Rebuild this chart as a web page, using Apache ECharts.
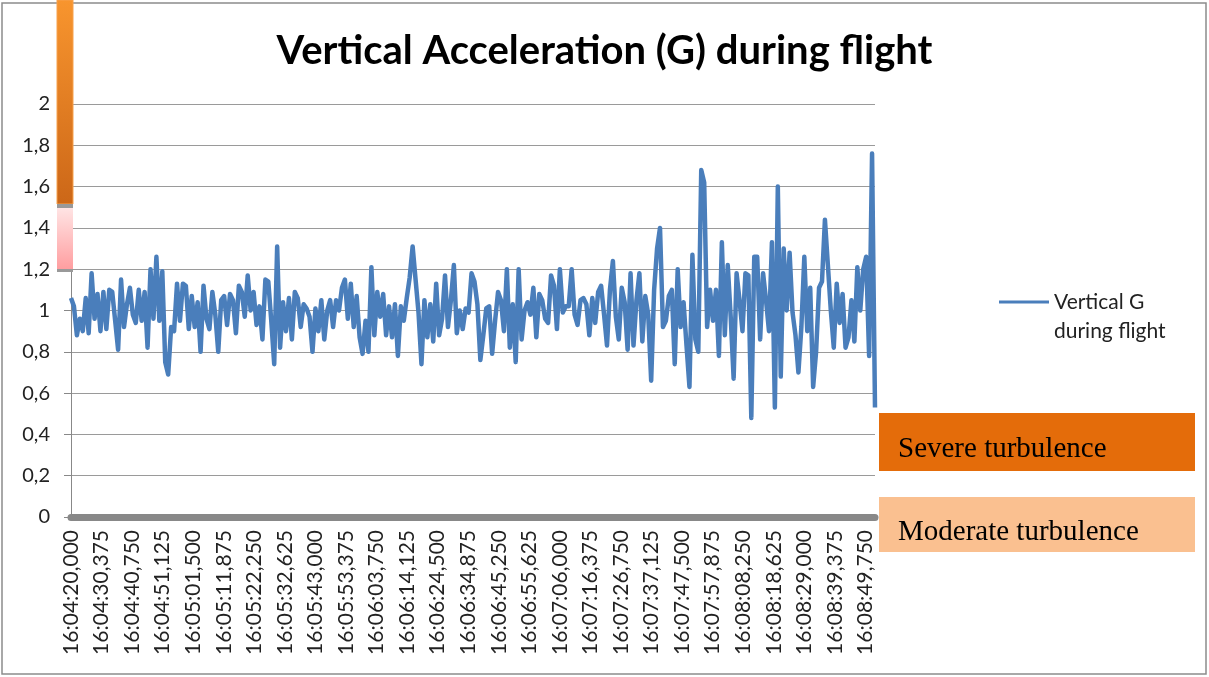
<!DOCTYPE html>
<html>
<head>
<meta charset="utf-8">
<script src="https://cdn.jsdelivr.net/npm/echarts@6/dist/echarts.min.js"></script>
<style>
  html, body { margin: 0; padding: 0; background: #fff; }
  #chart { width: 1209px; height: 677px; }
</style>
</head>
<body>
<div id="chart"></div>
<script>
// time axis labels, one every 10,375 s from 16:04:20,000
const tickLabels = [
  '16:04:20,000', '16:04:30,375', '16:04:40,750', '16:04:51,125', '16:05:01,500',
  '16:05:11,875', '16:05:22,250', '16:05:32,625', '16:05:43,000', '16:05:53,375',
  '16:06:03,750', '16:06:14,125', '16:06:24,500', '16:06:34,875', '16:06:45,250',
  '16:06:55,625', '16:07:06,000', '16:07:16,375', '16:07:26,750', '16:07:37,125',
  '16:07:47,500', '16:07:57,875', '16:08:08,250', '16:08:18,625', '16:08:29,000',
  '16:08:39,375', '16:08:49,750'
]
const tickStep = 10.375 // seconds between labels

// vertical G, one reading per second
const verticalG = [
  1.06, 1.02, 0.88, 0.96, 0.90, 1.06, 0.89, 1.18, 0.96, 1.08,
  0.90, 1.09, 0.91, 1.10, 1.09, 0.95, 0.81, 1.15, 0.92, 1.03,
  1.11, 0.98, 0.94, 1.10, 0.95, 1.09, 0.82, 1.20, 0.96, 1.26,
  0.95, 1.19, 0.75, 0.69, 0.92, 0.90, 1.13, 0.95, 1.13, 1.12,
  0.91, 1.07, 0.92, 1.04, 0.80, 1.12, 0.96, 0.91, 1.09, 0.98,
  0.80, 1.05, 1.07, 0.93, 1.08, 1.05, 0.89, 1.12, 1.09, 0.97,
  1.17, 1.00, 1.09, 0.93, 1.02, 0.86, 1.15, 1.14, 0.95, 0.74,
  1.31, 0.82, 1.04, 0.90, 1.06, 0.86, 1.09, 1.06, 0.92, 1.03,
  1.01, 0.97, 0.80, 1.01, 0.90, 1.05, 0.86, 1.00, 1.05, 0.92,
  1.05, 1.00, 1.11, 1.15, 0.96, 1.13, 0.92, 1.07, 0.87, 0.79,
  0.95, 0.80, 1.21, 0.88, 1.09, 0.97, 1.08, 0.88, 1.02, 0.87,
  1.03, 0.78, 1.02, 0.95, 1.06, 1.16, 1.31, 1.15, 0.99, 0.74,
  1.05, 0.87, 1.03, 0.85, 1.13, 0.88, 0.96, 1.17, 0.92, 1.05,
  1.22, 0.89, 1.00, 0.91, 1.01, 0.99, 1.18, 1.14, 1.03, 0.76,
  0.88, 1.01, 1.02, 0.79, 0.95, 1.09, 1.05, 0.90, 1.20, 0.82,
  1.03, 0.75, 1.20, 0.86, 1.00, 1.04, 0.98, 1.11, 0.87, 1.08,
  1.05, 0.96, 0.94, 1.17, 1.12, 0.91, 1.20, 0.99, 1.02, 1.02,
  1.20, 0.98, 0.93, 1.05, 1.06, 1.03, 0.88, 1.06, 0.94, 1.09,
  1.12, 0.98, 0.83, 1.10, 1.24, 0.97, 0.86, 1.11, 1.04, 0.81,
  1.18, 0.83, 1.05, 1.18, 0.85, 1.07, 0.98, 0.66, 1.10, 1.30,
  1.40, 0.92, 0.95, 1.07, 1.10, 0.74, 1.20, 0.92, 1.04, 0.83,
  0.63, 1.27, 0.86, 0.80, 1.68, 1.62, 0.92, 1.10, 0.95, 1.10,
  0.78, 1.33, 0.88, 1.22, 0.97, 0.67, 1.18, 1.05, 0.90, 1.18,
  1.17, 0.48, 1.26, 1.26, 0.86, 1.18, 1.05, 0.90, 1.33, 0.53,
  1.60, 0.68, 1.30, 1.00, 1.28, 0.99, 0.88, 0.70, 0.92, 1.26,
  0.90, 1.11, 0.63, 0.80, 1.11, 1.14, 1.44, 1.22, 1.00, 0.82,
  1.13, 0.94, 1.08, 0.82, 0.87, 1.05, 0.85, 1.21, 1.00, 1.20,
  1.26, 0.78, 1.76, 0.53
]

const seriesName = 'Vertical G\nduring flight'
const bandLabels = ['Severe turbulence', 'Moderate turbulence']
const bandColors = ['#E46C0A', '#FAC090']

const chart = echarts.init(document.getElementById('chart'))

const tickLabelAt = v => {
  const k = v / tickStep
  const r = Math.round(k)
  return Math.abs(k - r) < 1e-6 && tickLabels[r] ? tickLabels[r] : ''
}

const option = {
  animation: false,
  backgroundColor: '#fff',
  title: {
    text: 'Vertical Acceleration (G) during flight',
    left: 'center',
    top: 26,
    textStyle: { fontFamily: 'Lato', fontWeight: 'bold', fontSize: 40, color: '#000' }
  },
  grid: { left: 71, right: 334, top: 104, bottom: 160 },
  legend: {
    left: 999,
    top: 268,
    padding: 0,
    icon: 'rect',
    itemWidth: 50,
    itemHeight: 3,
    data: [seriesName],
    formatter: () => '{s| }\n{t|Vertical G}\n{t|during flight}',
    textStyle: {
      color: '#222',
      rich: {
        s: { fontSize: 10, lineHeight: 29 },
        t: { fontFamily: 'Lato', fontSize: 21, lineHeight: 29, color: '#222' }
      }
    }
  },
  xAxis: {
    type: 'value',
    min: 0,
    max: verticalG.length - 1,
    interval: tickStep,
    offset: 3,
    axisLine: { show: true, lineStyle: { color: '#888', width: 7 } },
    axisTick: { show: false },
    splitLine: { show: false },
    axisLabel: {
      rotate: 90,
      margin: 10,
      fontFamily: 'Lato',
      fontSize: 21,
      color: '#222',
      showMaxLabel: false,
      formatter: tickLabelAt
    }
  },
  yAxis: {
    type: 'value',
    min: 0,
    max: 2,
    interval: 0.2,
    axisLine: { show: true, lineStyle: { color: '#888', width: 1 } },
    axisTick: { show: true, length: 7, lineStyle: { color: '#888' } },
    splitLine: { show: true, lineStyle: { color: '#9a9a9a', width: 1 } },
    axisLabel: {
      margin: 21,
      fontFamily: 'Lato',
      fontSize: 20,
      color: '#222',
      formatter: v => String(+v.toFixed(1)).replace('.', ',')
    }
  },
  series: [{
    name: seriesName,
    type: 'line',
    symbol: 'none',
    z: 3,
    lineStyle: { color: '#4A7EBB', width: 4.5, join: 'round' },
    itemStyle: { color: '#4A7EBB' },
    data: verticalG.map((v, i) => [i, v])
  }],
  graphic: [
    // outer frame
    {
      type: 'rect', z: 0, silent: true,
      shape: { x: 2, y: 3, width: 1204, height: 671 },
      style: { fill: 'none', stroke: '#8c8c8c', lineWidth: 1.5 }
    },
    // severe band marker on the value axis
    {
      type: 'rect', z: 10,
      shape: { x: 57, y: 0, width: 16, height: 204 },
      style: {
        fill: new echarts.graphic.LinearGradient(0, 0, 0, 1, [
          { offset: 0, color: '#F8952E' },
          { offset: 1, color: '#CC6718' }
        ]),
        stroke: '#F7A24E', lineWidth: 1
      }
    },
    {
      type: 'rect', z: 10,
      shape: { x: 57, y: 204, width: 16, height: 4 },
      style: { fill: '#999' }
    },
    // moderate band marker on the value axis
    {
      type: 'rect', z: 10,
      shape: { x: 57, y: 208, width: 16, height: 61 },
      style: {
        fill: new echarts.graphic.LinearGradient(0, 0, 0, 1, [
          { offset: 0, color: '#FFE4E4' },
          { offset: 1, color: '#FF9EA0' }
        ])
      }
    },
    {
      type: 'rect', z: 10,
      shape: { x: 57, y: 269, width: 16, height: 3 },
      style: { fill: '#999' }
    },
    // key boxes
    {
      type: 'rect', z: 10,
      shape: { x: 879, y: 413, width: 316, height: 58 },
      style: { fill: bandColors[0] }
    },
    {
      type: 'text', z: 11,
      style: {
        x: 898, y: 449, text: bandLabels[0], fill: '#000',
        font: '29px "Liberation Serif"', verticalAlign: 'middle'
      }
    },
    {
      type: 'rect', z: 10,
      shape: { x: 879, y: 497, width: 316, height: 55 },
      style: { fill: bandColors[1] }
    },
    {
      type: 'text', z: 11,
      style: {
        x: 898, y: 532, text: bandLabels[1], fill: '#000',
        font: '29px "Liberation Serif"', verticalAlign: 'middle'
      }
    }
  ]
}

chart.setOption(option)
window.addEventListener('resize', () => chart.resize())
</script>
</body>
</html>
